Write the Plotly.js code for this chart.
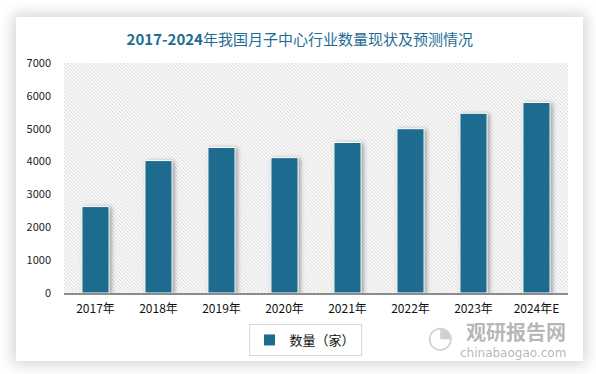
<!DOCTYPE html>
<html>
<head>
<meta charset="utf-8">
<script src="https://cdn.plot.ly/plotly-3.0.1.min.js"></script>
<style>
  html, body { margin: 0; padding: 0; background: #ffffff; }
  #wrap { position: relative; width: 596px; height: 374px; overflow: hidden; }
  #card { position: absolute; left: 16px; top: 17px; width: 567px; height: 344px; background: #fff;
          box-shadow: 0 0 14px 3px rgba(0,0,0,0.18); }
  #chart { position: absolute; left: 0; top: 0; width: 596px; height: 374px; }
  #chart .bars .point path { filter: drop-shadow(2px 1px 2px rgba(0,0,0,0.35)); }
</style>
</head>
<body>
<div id="wrap">
  <div id="card"></div>
  <div id="chart"></div>
</div>
<script>
const categories = ["2017年", "2018年", "2019年", "2020年", "2021年", "2022年", "2023年", "2024年E"];
const counts = [2630, 4030, 4430, 4120, 4580, 5000, 5470, 5800];
const seriesName = "数量（家）";
const yTicks = [0, 1000, 2000, 3000, 4000, 5000, 6000, 7000];

const hatchSvg = '<svg xmlns="http://www.w3.org/2000/svg" width="504" height="230">' +
  '<defs><pattern id="p" width="3.5" height="3.5" patternUnits="userSpaceOnUse">' +
  '<path d="M-1,-1 L4.5,4.5 M2.5,-1 L4.5,1 M-1,2.5 L1,4.5" stroke="#d6d6d6" stroke-width="0.9"/>' +
  '</pattern></defs><rect width="504" height="230" fill="#ffffff"/><rect width="504" height="230" fill="url(#p)"/></svg>';
const hatchUri = 'data:image/svg+xml;base64,' + btoa(hatchSvg);

const font = '"Noto Sans CJK SC", "Noto Sans", sans-serif';

const trace = {
  type: 'bar',
  x: categories,
  y: counts,
  name: seriesName,
  marker: { color: '#1d6b8f', line: { color: '#ffffff', width: 1 } },
  hoverinfo: 'x+y'
};

// helper: pixel y (from top of page) -> paper fraction of plot area (top 63, bottom 293)
const py = p => (293 - p) / 230;

const layout = {
  width: 596, height: 374,
  margin: { l: 64, r: 28, t: 63, b: 81 },
  paper_bgcolor: 'rgba(0,0,0,0)',
  plot_bgcolor: 'rgba(0,0,0,0)',
  font: { family: font, size: 11, color: '#222' },
  title: {
    text: '<b>2017-2024</b>年我国月子中心行业数量现状及预测情况',
    font: { family: font, size: 15, color: '#1f6c91' },
    x: 0.503, xanchor: 'center', y: 1 - 40/374, yanchor: 'middle'
  },
  bargap: 0.57,
  xaxis: {
    type: 'category',
    showgrid: false,
    showline: true, linecolor: '#8c8c8c', linewidth: 1.5,
    ticks: '', tickfont: { family: font, size: 12, color: '#111' },
    ticklabelstandoff: 4
  },
  yaxis: {
    range: [0, 7000],
    tickvals: yTicks,
    ticktext: yTicks.map(String),
    showgrid: false, zeroline: false, showline: false,
    ticks: '', ticklabelstandoff: 12,
    tickfont: { family: font, size: 11, color: '#222' }
  },
  showlegend: true,
  legend: {
    orientation: 'h', x: (305 - 64) / 504, xanchor: 'center', y: 1 - 340/374, yref: 'container', yanchor: 'middle',
    bordercolor: '#d9d9d9', borderwidth: 1, bgcolor: '#ffffff', itemwidth: 30,
    font: { family: font, size: 13, color: '#111' }
  },
  images: [{
    source: hatchUri, xref: 'paper', yref: 'paper', x: 0, y: 1, sizex: 1, sizey: 1,
    xanchor: 'left', yanchor: 'top', sizing: 'stretch', layer: 'below'
  }],
  annotations: [
    { text: '<b>观研报告网</b>', xref: 'paper', yref: 'paper', x: 1.0, y: py(331), xanchor: 'right', yanchor: 'middle',
      showarrow: false, font: { family: font, size: 20, color: 'rgba(120,120,120,0.55)' } },
    { text: 'chinabaogao.com', xref: 'paper', yref: 'paper', x: 1.0, y: py(353), xanchor: 'right', yanchor: 'middle',
      showarrow: false, font: { family: 'DejaVu Sans, sans-serif', size: 12, color: 'rgba(120,120,120,0.55)' } },
    { text: '◔', xref: 'paper', yref: 'paper', x: (440 - 64) / 504, y: py(336), xanchor: 'center', yanchor: 'middle',
      showarrow: false, font: { family: 'DejaVu Sans, sans-serif', size: 30, color: 'rgba(150,150,150,0.45)' } }
  ]
};

Plotly.newPlot('chart', [trace], layout, { displayModeBar: false, staticPlot: true });
</script>
</body>
</html>
